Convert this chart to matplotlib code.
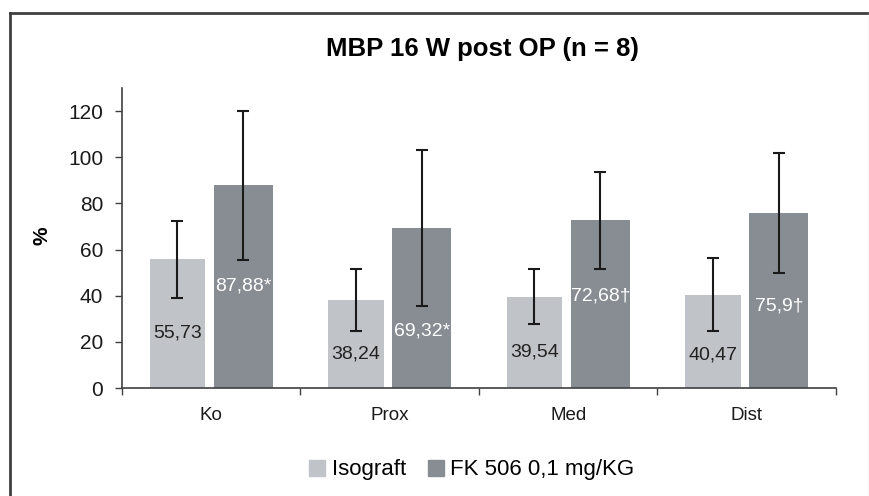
import matplotlib
matplotlib.use("Agg")
import matplotlib.pyplot as plt
from matplotlib.patches import Rectangle
from matplotlib.lines import Line2D
import numpy as np

plt.rcParams['font.family'] = ['Liberation Sans', 'DejaVu Sans']

categories = ["Ko", "Prox", "Med", "Dist"]
series_names = ["Isograft", "FK 506 0,1 mg/KG"]
iso_values = [55.73, 38.24, 39.54, 40.47]
fk_values = [87.88, 69.32, 72.68, 75.9]
iso_err = [16.6, 13.4, 12.0, 15.7]
fk_err = [32.2, 33.9, 21.1, 25.9]
iso_labels = ["55,73", "38,24", "39,54", "40,47"]
fk_labels = ["87,88*", "69,32*", "72,68\u2020", "75,9\u2020"]
iso_label_y = [24.0, 14.6, 15.8, 14.2]
fk_label_y = [44.0, 24.9, 39.7, 35.7]

iso_color = "#c0c3c8"
fk_color = "#878d93"

fig = plt.figure(figsize=(8.7, 4.96), dpi=100)
ax = fig.add_axes([122/870, 1-388/496, 714/870, 300/496])

x = np.arange(1, len(categories)+1)
ekw = dict(ecolor="#1a1a1a", elinewidth=1.5, capsize=4.5, capthick=1.5)
ax.bar(x-0.19, iso_values, width=0.31, color=iso_color, yerr=iso_err, error_kw=ekw, label=series_names[0], zorder=2)
ax.bar(x+0.18, fk_values, width=0.33, color=fk_color, yerr=fk_err, error_kw=ekw, label=series_names[1], zorder=2)

for i in range(len(categories)):
    ax.text(x[i]-0.19, iso_label_y[i], iso_labels[i], ha="center", va="center", fontsize=14, color="#222222", zorder=3)
    ax.text(x[i]+0.18, fk_label_y[i], fk_labels[i], ha="center", va="center", fontsize=14, color="white", zorder=3)

ax.set_xlim(0.5, len(categories)+0.5)
ax.set_ylim(0, 130)
ax.set_yticks(range(0, 121, 20))
ax.tick_params(axis='y', labelsize=15, length=5, width=1, color="#404040", pad=8.5, labelcolor="#1a1a1a")
ax.set_xticks(np.arange(0.5, len(categories)+1, 1.0))
ax.set_xticklabels([])
ax.tick_params(axis='x', length=5, width=1, color="#404040")
ax.set_xticks(x, minor=True)
ax.set_xticklabels(categories, minor=True)
ax.tick_params(axis='x', which='minor', length=0, labelsize=13.5, pad=14, labelcolor="#1a1a1a")
for s in ["top", "right"]:
    ax.spines[s].set_visible(False)
for s in ["left", "bottom"]:
    ax.spines[s].set_color("#404040")
    ax.spines[s].set_linewidth(1.2)

fig.text(42/870, 1-236/496, "%", rotation=90, ha="center", va="center", fontsize=15, fontweight="bold")

fig.text(482/870, 1-49/496, "MBP 16 W post OP (n = 8)", ha="center", va="center", fontsize=18.5, fontweight="bold")

handles = [Rectangle((0, 0), 1, 1, color=iso_color), Rectangle((0, 0), 1, 1, color=fk_color)]
fig.legend(handles, series_names, loc="center", bbox_to_anchor=(472/870, 1-470/496), ncol=2, frameon=False,
           fontsize=16, handlelength=0.7, handleheight=0.7, handletextpad=0.3, columnspacing=1.0)

# outer frame
fig.add_artist(Line2D([10/870, 10/870], [0, 1-13/496], transform=fig.transFigure, color="#404040", lw=2))
fig.add_artist(Line2D([10/870, 1.0], [1-13/496, 1-13/496], transform=fig.transFigure, color="#404040", lw=2))
fig.add_artist(Line2D([869/870, 869/870], [0, 1-13/496], transform=fig.transFigure, color="#d8d8d8", lw=1))

fig.savefig("out.png", dpi=100)
